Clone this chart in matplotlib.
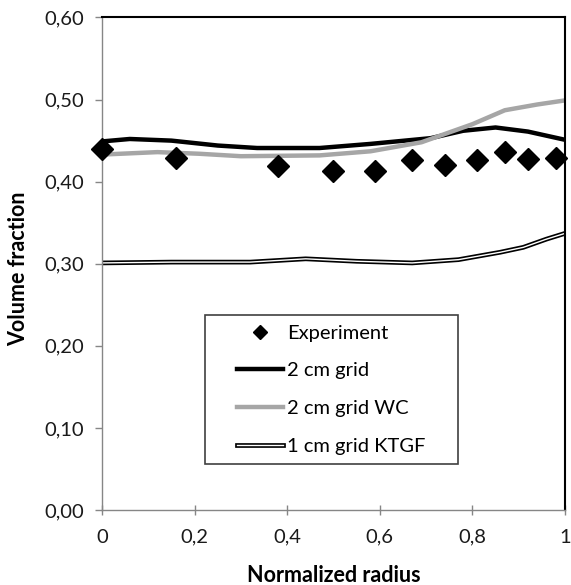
import matplotlib
matplotlib.use("Agg")
from matplotlib import pyplot as plt
from matplotlib import patheffects as pe
from matplotlib.patches import Rectangle

plt.rcParams['font.family'] = ['Lato', 'DejaVu Sans']

# Experiment points
exp_r = [0.0, 0.16, 0.38, 0.50, 0.59, 0.67, 0.74, 0.81, 0.87, 0.92, 0.98]
exp_vf = [0.440, 0.429, 0.419, 0.413, 0.413, 0.426, 0.420, 0.426, 0.436, 0.427, 0.429]

# 2 cm grid
g2_r = [0.0, 0.06, 0.15, 0.25, 0.335, 0.47, 0.58, 0.71, 0.78, 0.85, 0.92, 1.0]
g2_vf = [0.449, 0.452, 0.450, 0.444, 0.441, 0.441, 0.446, 0.453, 0.462, 0.466, 0.461, 0.451]

# 2 cm grid WC
wc_r = [0.0, 0.12, 0.21, 0.30, 0.47, 0.58, 0.69, 0.72, 0.80, 0.87, 0.94, 1.0]
wc_vf = [0.433, 0.436, 0.434, 0.431, 0.432, 0.437, 0.448, 0.454, 0.470, 0.487, 0.494, 0.499]

# 1 cm grid KTGF
kt_r = [0.0, 0.15, 0.32, 0.44, 0.55, 0.67, 0.72, 0.77, 0.80, 0.86, 0.91, 0.96, 1.0]
kt_vf = [0.301, 0.302, 0.302, 0.306, 0.303, 0.301, 0.303, 0.305, 0.308, 0.314, 0.320, 0.330, 0.337]

xticks = [0, 0.2, 0.4, 0.6, 0.8, 1.0]
xtick_labels = ['0', '0,2', '0,4', '0,6', '0,8', '1']
yticks = [0.0, 0.1, 0.2, 0.3, 0.4, 0.5, 0.6]
ytick_labels = ['0,00', '0,10', '0,20', '0,30', '0,40', '0,50', '0,60']

fig = plt.figure(figsize=(5.71, 5.85), dpi=100)
ax = fig.add_axes([0.1786, 0.1282, 0.8109, 0.8419])

ax.plot(g2_r, g2_vf, color='black', lw=3.2, label='2 cm grid')
ax.plot(wc_r, wc_vf, color='#a6a6a6', lw=3.2, label='2 cm grid WC')
ax.plot(kt_r, kt_vf, color='white', lw=1.0, label='1 cm grid KTGF',
        path_effects=[pe.Stroke(linewidth=3.4, foreground='black'), pe.Normal()])
ax.plot(exp_r, exp_vf, 'D', color='black', ms=11.5, ls='none',
        label='Experiment', clip_on=False, zorder=5)

ax.set_xlim(0, 1)
ax.set_ylim(0, 0.6)
ax.set_xticks(xticks)
ax.set_xticklabels(xtick_labels)
ax.set_yticks(yticks)
ax.set_yticklabels(ytick_labels)

for s in ['left', 'bottom']:
    ax.spines[s].set_color('#868686')
    ax.spines[s].set_linewidth(1.0)
for s in ['top', 'right']:
    ax.spines[s].set_color('black')
    ax.spines[s].set_linewidth(1.5)

ax.tick_params(axis='y', direction='out', length=5, width=1, color='#868686',
               labelsize=14.5, pad=8, labelcolor='#1a1a1a')
ax.tick_params(axis='x', direction='inout', length=7, width=1, color='#868686',
               labelsize=14.5, pad=10, labelcolor='#1a1a1a')

ax.set_xlabel('Normalized radius', fontsize=15.5, fontweight='bold')
ax.set_ylabel('Volume fraction', fontsize=15.5, fontweight='bold')
ax.xaxis.set_label_coords(0.5, -0.112)
ax.yaxis.set_label_coords(-0.157, 0.49)

# legend order as in the reference
h, l = ax.get_legend_handles_labels()
order = [3, 0, 1, 2]
leg = ax.legend([h[i] for i in order], [l[i] for i in order],
                loc='center', bbox_to_anchor=(0.4957, 0.2444), frameon=False,
                fontsize=14.5, handlelength=2.3, handletextpad=0.2,
                labelspacing=1.02, markerscale=0.6, borderpad=0)
ax.add_patch(Rectangle((0.223, 0.093), 0.545, 0.303, transform=ax.transAxes,
                       fill=False, edgecolor='#404040', lw=1.2, zorder=6))

fig.savefig('out.png', dpi=100)
